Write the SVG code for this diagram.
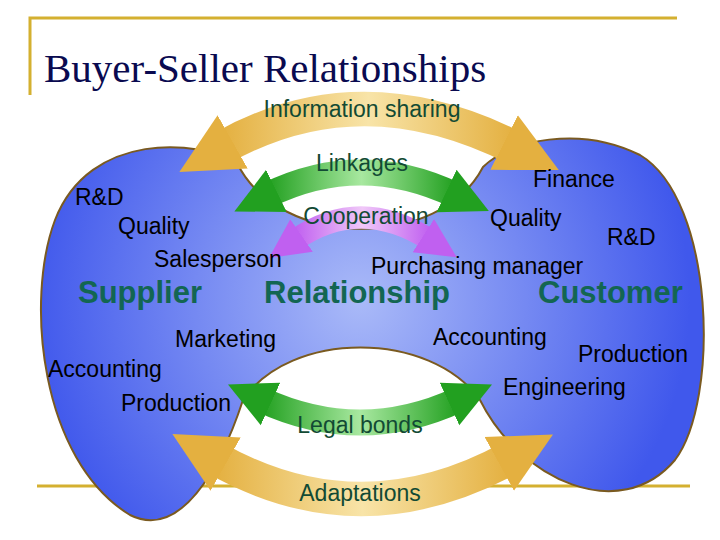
<svg xmlns="http://www.w3.org/2000/svg" width="720" height="540" viewBox="0 0 720 540">
<style>
.t{font-family:"Liberation Sans",Arial,sans-serif;font-size:23px;fill:#000}
.a{font-family:"Liberation Sans",Arial,sans-serif;font-size:23px;fill:#124a34}
.b{font-family:"Liberation Sans",Arial,sans-serif;font-size:31px;font-weight:bold;fill:#136652}
.g{fill:none;stroke:#d4b030;stroke-width:3}
</style>
<defs>
<radialGradient id="blue" cx="360" cy="300" r="330" gradientUnits="userSpaceOnUse">
<stop offset="0" stop-color="#aabaf8"/><stop offset="1" stop-color="#4058ec"/></radialGradient>
<linearGradient id="gold" x1="0" x2="1"><stop offset="0" stop-color="#e4b040"/><stop offset="0.5" stop-color="#f8e4a8"/><stop offset="1" stop-color="#e4b040"/></linearGradient>
<linearGradient id="green" x1="0" x2="1"><stop offset="0" stop-color="#22a020"/><stop offset="0.5" stop-color="#a8e8a0"/><stop offset="1" stop-color="#22a020"/></linearGradient>
<linearGradient id="purp" x1="0" x2="1"><stop offset="0" stop-color="#c060f0"/><stop offset="0.5" stop-color="#f0c8f8"/><stop offset="1" stop-color="#c060f0"/></linearGradient>
<marker id="mg" viewBox="0 0 10 10" refX="2" refY="5" markerWidth="1.8" markerHeight="2" orient="auto-start-reverse"><path d="M0,0L10,5L0,10Z" fill="#e4b040"/></marker>
<marker id="mn" viewBox="0 0 10 10" refX="2" refY="5" markerWidth="1.8" markerHeight="2" orient="auto-start-reverse"><path d="M0,0L10,5L0,10Z" fill="#22a020"/></marker>
<marker id="mp" viewBox="0 0 10 10" refX="2" refY="5" markerWidth="1.8" markerHeight="2" orient="auto-start-reverse"><path d="M0,0L10,5L0,10Z" fill="#c060f0"/></marker>
</defs>
<rect width="720" height="540" fill="#fff"/>
<path class="g" d="M30,95V18H677"/>
<path class="g" d="M37,486H690"/>
<text x="44" y="82" style="font-family:'Liberation Serif',serif;font-size:41px;fill:#0a0a50">Buyer-Seller Relationships</text>
<g id="blob"><path d="M237,163C200,140 90,130 55,220C25,300 40,460 130,515C180,540 220,470 243,400C290,330 430,330 480,400C520,480 620,525 675,460C720,400 715,200 640,155C580,125 510,140 483,167C440,250 280,250 237,163Z" fill="url(#blue)" stroke="#7a5a20" stroke-width="2"/></g>
<g id="connectors">
<path d="M222,148Q360,70 515,148" fill="none" stroke="url(#gold)" stroke-width="34" marker-start="url(#mg)" marker-end="url(#mg)"/>
<path d="M268,195Q360,150 455,195" fill="none" stroke="url(#green)" stroke-width="26" marker-start="url(#mn)" marker-end="url(#mn)"/>
<path d="M295,240Q360,195 430,240" fill="none" stroke="url(#purp)" stroke-width="22" marker-start="url(#mp)" marker-end="url(#mp)"/>
<path d="M262,400Q360,445 458,400" fill="none" stroke="url(#green)" stroke-width="26" marker-start="url(#mn)" marker-end="url(#mn)"/>
<path d="M215,458Q360,540 510,458" fill="none" stroke="url(#gold)" stroke-width="34" marker-start="url(#mg)" marker-end="url(#mg)"/>
</g>
<g id="arrow-labels">
<text class="a" x="362" y="117" text-anchor="middle">Information sharing</text>
<text class="a" x="362" y="171" text-anchor="middle">Linkages</text>
<text class="a" x="366" y="224" text-anchor="middle">Cooperation</text>
<text class="a" x="360" y="433" text-anchor="middle">Legal bonds</text>
<text class="a" x="360" y="501" text-anchor="middle">Adaptations</text>
</g>
<g id="supplier">
<text class="t" x="75" y="205">R&amp;D</text>
<text class="t" x="118" y="234">Quality</text>
<text class="t" x="154" y="267">Salesperson</text>
<text class="b" x="78" y="303">Supplier</text>
<text class="t" x="175" y="347">Marketing</text>
<text class="t" x="48" y="377">Accounting</text>
<text class="t" x="121" y="411">Production</text>
</g>
<g id="relationship"><text class="b" x="264" y="303">Relationship</text></g>
<g id="customer">
<text class="t" x="533" y="187">Finance</text>
<text class="t" x="490" y="226">Quality</text>
<text class="t" x="607" y="245">R&amp;D</text>
<text class="t" x="371" y="274">Purchasing manager</text>
<text class="b" x="538" y="303">Customer</text>
<text class="t" x="433" y="345">Accounting</text>
<text class="t" x="578" y="362">Production</text>
<text class="t" x="503" y="395">Engineering</text>
</g>
</svg>
